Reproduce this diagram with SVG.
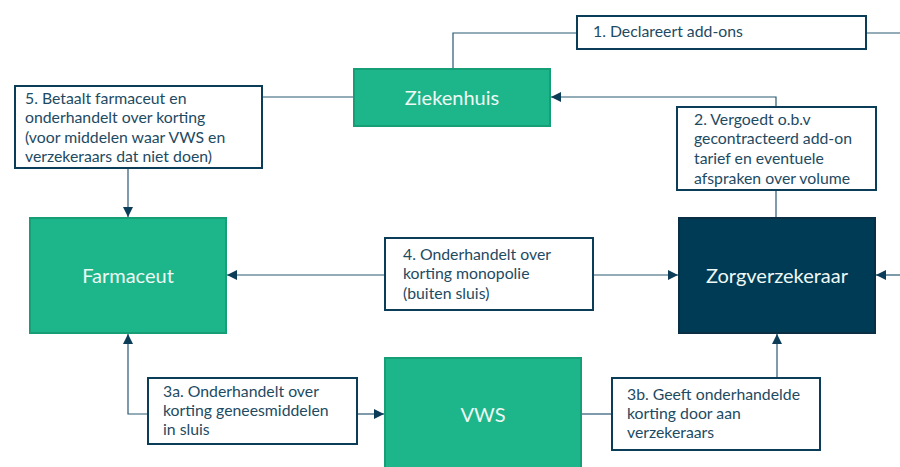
<svg xmlns="http://www.w3.org/2000/svg" width="900" height="467" viewBox="0 0 900 467">
<defs>
<marker id="ah" viewBox="0 0 10 10" refX="10" refY="5" markerWidth="10" markerHeight="10" markerUnits="userSpaceOnUse" orient="auto">
<path d="M0,0 L10,5 L0,10 z" fill="#0c3d58"/>
</marker>
<style>
.g{fill:#1db68a;stroke:#169e77;stroke-width:2}
.d{fill:#003b56;stroke:#0a2f44;stroke-width:2}
.lb{fill:#fff;stroke:#0c3d58;stroke-width:2}
.nt{font-family:Lato,"Liberation Sans",sans-serif;font-size:20px;fill:#eef8f4;text-anchor:middle;dominant-baseline:central}
.t{font-family:Lato,"Liberation Sans",sans-serif;font-size:15.8px;fill:#1e4a62}
.c{fill:none;stroke:#2a5872;stroke-width:1.2}
.ca{fill:none;stroke:#2a5872;stroke-width:1.2;marker-end:url(#ah)}
</style>
</defs>
<g id="connectors">
<path class="c" d="M453,69 V33 H577"/>
<path class="c" d="M866,33 H900"/>
<path class="ca" d="M776,107 V97 H551"/>
<path class="c" d="M776,190 V218"/>
<path class="c" d="M262,97 H354"/>
<path class="ca" d="M128,168 V217"/>
<path class="ca" d="M385,275 H227"/>
<path class="ca" d="M593,275 H678"/>
<path class="ca" d="M900,275 H876"/>
<path class="ca" d="M148,414 H128 V334"/>
<path class="ca" d="M357,414 H384"/>
<path class="c" d="M581,414 H612"/>
<path class="ca" d="M777,378 V334"/>
</g>
<g id="ziekenhuis">
<rect class="g" x="354" y="69" width="196" height="57"/>
<text class="nt" x="452" y="97">Ziekenhuis</text>
</g>
<g id="farmaceut">
<rect class="g" x="30" y="218" width="196" height="115"/>
<text class="nt" x="128" y="275">Farmaceut</text>
</g>
<g id="zorgverzekeraar">
<rect class="d" x="679" y="218" width="196" height="115"/>
<text class="nt" x="777" y="275">Zorgverzekeraar</text>
</g>
<g id="vws">
<rect class="g" x="385" y="358" width="196" height="112"/>
<text class="nt" x="483" y="414">VWS</text>
</g>
<g id="label1">
<rect class="lb" x="577" y="16" width="289" height="33"/>
<text class="t" x="593" y="37">1. Declareert add-ons</text>
</g>
<g id="label2">
<rect class="lb" x="677" y="107" width="199" height="83"/>
<text class="t" x="694" y="125">2. Vergoedt o.b.v</text>
<text class="t" x="694" y="144">gecontracteerd add-on</text>
<text class="t" x="694" y="164">tarief en eventuele</text>
<text class="t" x="694" y="184">afspraken over volume</text>
</g>
<g id="label5">
<rect class="lb" x="15" y="86" width="247" height="82"/>
<text class="t" x="25" y="104">5. Betaalt farmaceut en</text>
<text class="t" x="25" y="123">onderhandelt over korting</text>
<text class="t" x="25" y="143">(voor middelen waar VWS en</text>
<text class="t" x="25" y="162">verzekeraars dat niet doen)</text>
</g>
<g id="label4">
<rect class="lb" x="385" y="238" width="208" height="72"/>
<text class="t" x="403" y="260">4. Onderhandelt over</text>
<text class="t" x="403" y="279">korting monopolie</text>
<text class="t" x="403" y="299">(buiten sluis)</text>
</g>
<g id="label3a">
<rect class="lb" x="148" y="378" width="209" height="66"/>
<text class="t" x="163" y="397">3a. Onderhandelt over</text>
<text class="t" x="163" y="416">korting geneesmiddelen</text>
<text class="t" x="163" y="435">in sluis</text>
</g>
<g id="label3b">
<rect class="lb" x="612" y="378" width="208" height="72"/>
<text class="t" x="627" y="400">3b. Geeft onderhandelde</text>
<text class="t" x="627" y="419">korting door aan</text>
<text class="t" x="627" y="438">verzekeraars</text>
</g>
</svg>
